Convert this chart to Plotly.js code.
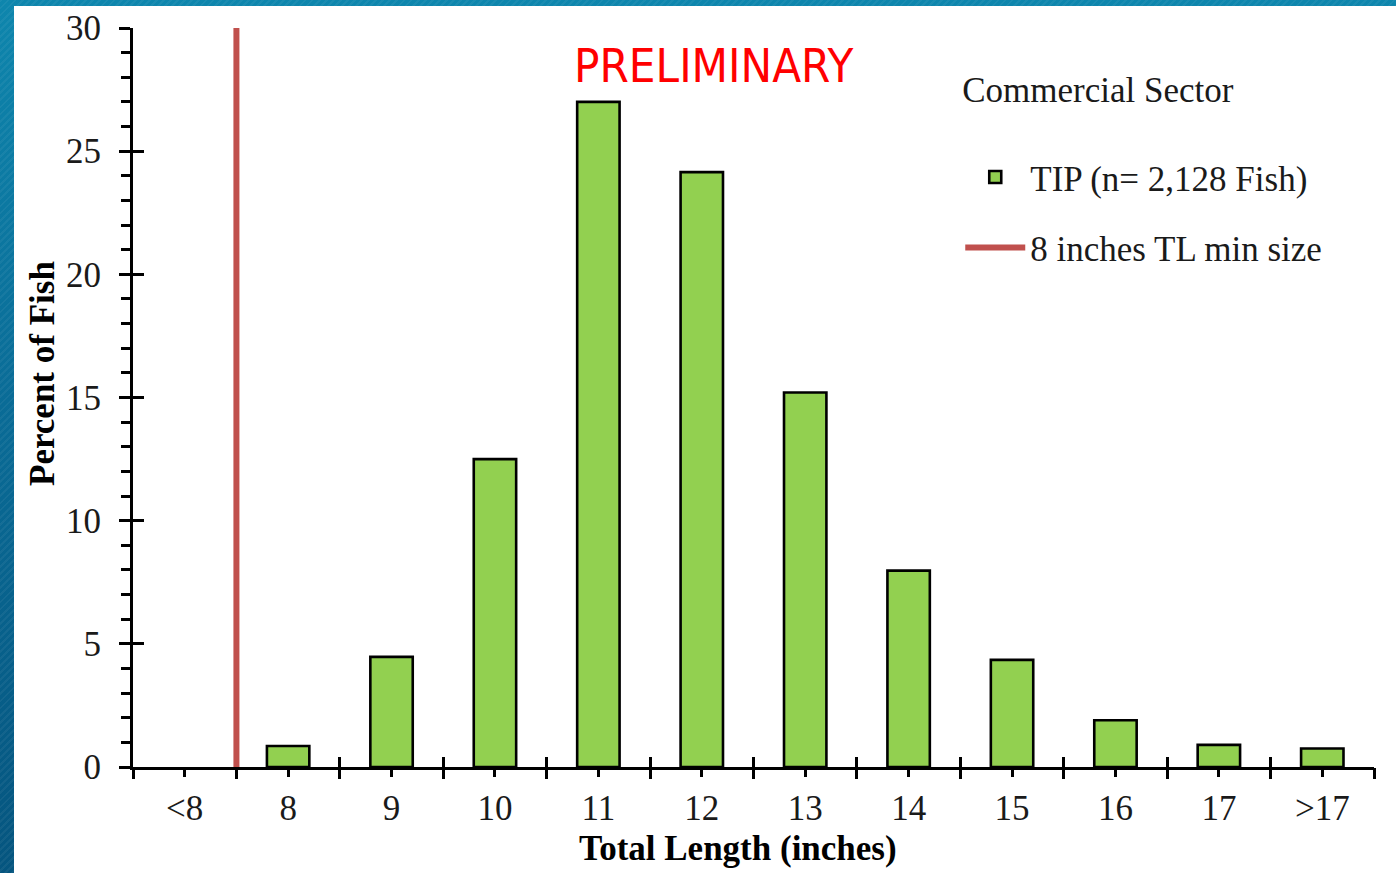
<!DOCTYPE html>
<html>
<head>
<meta charset="utf-8">
<script src="https://cdn.plot.ly/plotly-3.0.1.min.js"></script>
<style>
  html, body { margin: 0; padding: 0; width: 1396px; height: 873px; overflow: hidden; }
  body {
    background:
      repeating-linear-gradient(135deg, rgba(255,255,255,0.05) 0px, rgba(255,255,255,0.05) 2px, rgba(0,0,0,0) 2px, rgba(0,0,0,0) 5px),
      linear-gradient(180deg, #0e86ad 0%, #0a6c97 45%, #05557f 100%);
  }
  #chart { position: absolute; left: 14px; top: 6px; width: 1382px; height: 867px; background: #ffffff; }
</style>
</head>
<body>
<div id="chart"></div>
<script>
// ---- data ----
const categories = ['<8', '8', '9', '10', '11', '12', '13', '14', '15', '16', '17', '>17'];
const percentOfFish = [0, 0.85, 4.47, 12.5, 27.0, 24.15, 15.2, 7.97, 4.35, 1.9, 0.9, 0.75];
const seriesName = 'TIP (n= 2,128 Fish)';
const minSizeLabel = '8 inches TL min size';
const minSizeCategory = '8';
const legendTitle = 'Commercial Sector';
const xTitle = 'Total Length (inches)';
const yTitle = 'Percent of Fish';
const stampText = 'PRELIMINARY';

// ---- styling ----
const serif = 'Liberation Serif, Times New Roman, serif';
const txt = '#1a1a1a';
const nCat = categories.length;
const catRange = [-0.5, nCat - 0.5];
const minSizePos = categories.indexOf(minSizeCategory) - 0.5;
const catIndex = categories.map((c, i) => i);

const bars = {
  type: 'bar',
  x: categories,
  // a zero-height bar is left undrawn (no flat outline), as in the original
  y: percentOfFish.map(v => (v > 0 ? v : null)),
  name: seriesName,
  marker: { color: '#92D050', line: { color: '#000000', width: 2.6 } },
  legendgroup: 'g1',
  hoverinfo: 'x+y'
};

// invisible helper traces so the overlaid tick-only axes get drawn
function helper(xa) {
  return { type: 'scatter', mode: 'none', x: catIndex, y: percentOfFish, xaxis: xa, yaxis: 'y2',
           showlegend: false, hoverinfo: 'skip' };
}

const tickOnly = { type: 'linear', range: catRange, tick0: -0.5, dtick: 1, tickwidth: 3, tickcolor: '#000',
  showticklabels: false, showgrid: false, zeroline: false, showline: false, fixedrange: true,
  overlaying: 'x', anchor: 'y', side: 'bottom' };

const layout = {
  width: 1382,
  height: 867,
  margin: { l: 119, r: 22, t: 22, b: 106, pad: 0 },
  paper_bgcolor: '#ffffff',
  plot_bgcolor: '#ffffff',
  bargap: 0.59,
  showlegend: true,
  font: { family: serif, size: 35, color: txt },
  xaxis: {
    type: 'category',
    categoryorder: 'array',
    categoryarray: categories,
    range: catRange,
    showline: true, linecolor: '#000', linewidth: 3,
    ticks: '',
    ticklabelstandoff: 8,
    tickfont: { family: serif, size: 35, color: txt },
    showgrid: false, zeroline: false,
    fixedrange: true
  },
  xaxis2: Object.assign({}, tickOnly, { ticks: 'outside', ticklen: 11 }),
  xaxis3: Object.assign({}, tickOnly, { ticks: 'inside', ticklen: 10 }),
  xaxis4: Object.assign({}, tickOnly, { tick0: 0, ticks: 'outside', ticklen: 9 }),
  yaxis: {
    range: [0, 30], dtick: 5, tick0: 0,
    showline: true, linecolor: '#000', linewidth: 3,
    ticks: 'outside', ticklen: 11, tickwidth: 3, tickcolor: '#000',
    minor: { dtick: 1, ticks: 'outside', ticklen: 9, tickwidth: 3, tickcolor: '#000', showgrid: false },
    ticklabelstandoff: 11,
    tickfont: { family: serif, size: 35, color: txt },
    showgrid: false, zeroline: false,
    fixedrange: true
  },
  yaxis2: {
    overlaying: 'y', anchor: 'x', side: 'left',
    range: [0, 30], dtick: 5, tick0: 0,
    ticks: 'inside', ticklen: 11, tickwidth: 3, tickcolor: '#000',
    showticklabels: false, showgrid: false, zeroline: false, showline: false, fixedrange: true
  },
  legend: {
    x: 0.6666, xanchor: 'left',
    y: 0.961, yanchor: 'top',
    bgcolor: 'rgba(0,0,0,0)',
    font: { family: serif, size: 35, color: txt },
    title: { text: legendTitle + '<br> ', font: { family: serif, size: 35, color: txt } },
    traceorder: 'grouped',
    tracegroupgap: 22,
    itemwidth: 60
  },
  shapes: [{
    type: 'line', xref: 'x', yref: 'y',
    x0: minSizePos, x1: minSizePos, y0: 0, y1: 30,
    line: { color: '#C0504D', width: 6 },
    showlegend: true, name: minSizeLabel, legendgroup: 'g2', layer: 'above'
  }],
  annotations: [{
    text: stampText, xref: 'paper', yref: 'paper',
    x: 0.468, y: 0.949, xanchor: 'center', yanchor: 'middle', showarrow: false,
    font: { family: 'Liberation Sans Narrow, DejaVu Sans Condensed, sans-serif', size: 47, color: '#FF0000' }
  }, {
    text: '<b>' + xTitle + '</b>', xref: 'paper', yref: 'paper',
    x: (738 - 133) / 1241, y: -(849 - 767) / 739, xanchor: 'center', yanchor: 'middle', showarrow: false,
    font: { family: serif, size: 35, color: '#000' }
  }, {
    text: '<b>' + yTitle + '</b>', xref: 'paper', yref: 'paper', textangle: -90,
    x: (42 - 133) / 1241, y: (767 - 374) / 739, xanchor: 'center', yanchor: 'middle', showarrow: false,
    font: { family: serif, size: 35, color: '#000' }
  }]
};

Plotly.newPlot('chart', [bars, helper('x2'), helper('x3'), helper('x4')], layout, { displayModeBar: false, staticPlot: true });
</script>
</body>
</html>
